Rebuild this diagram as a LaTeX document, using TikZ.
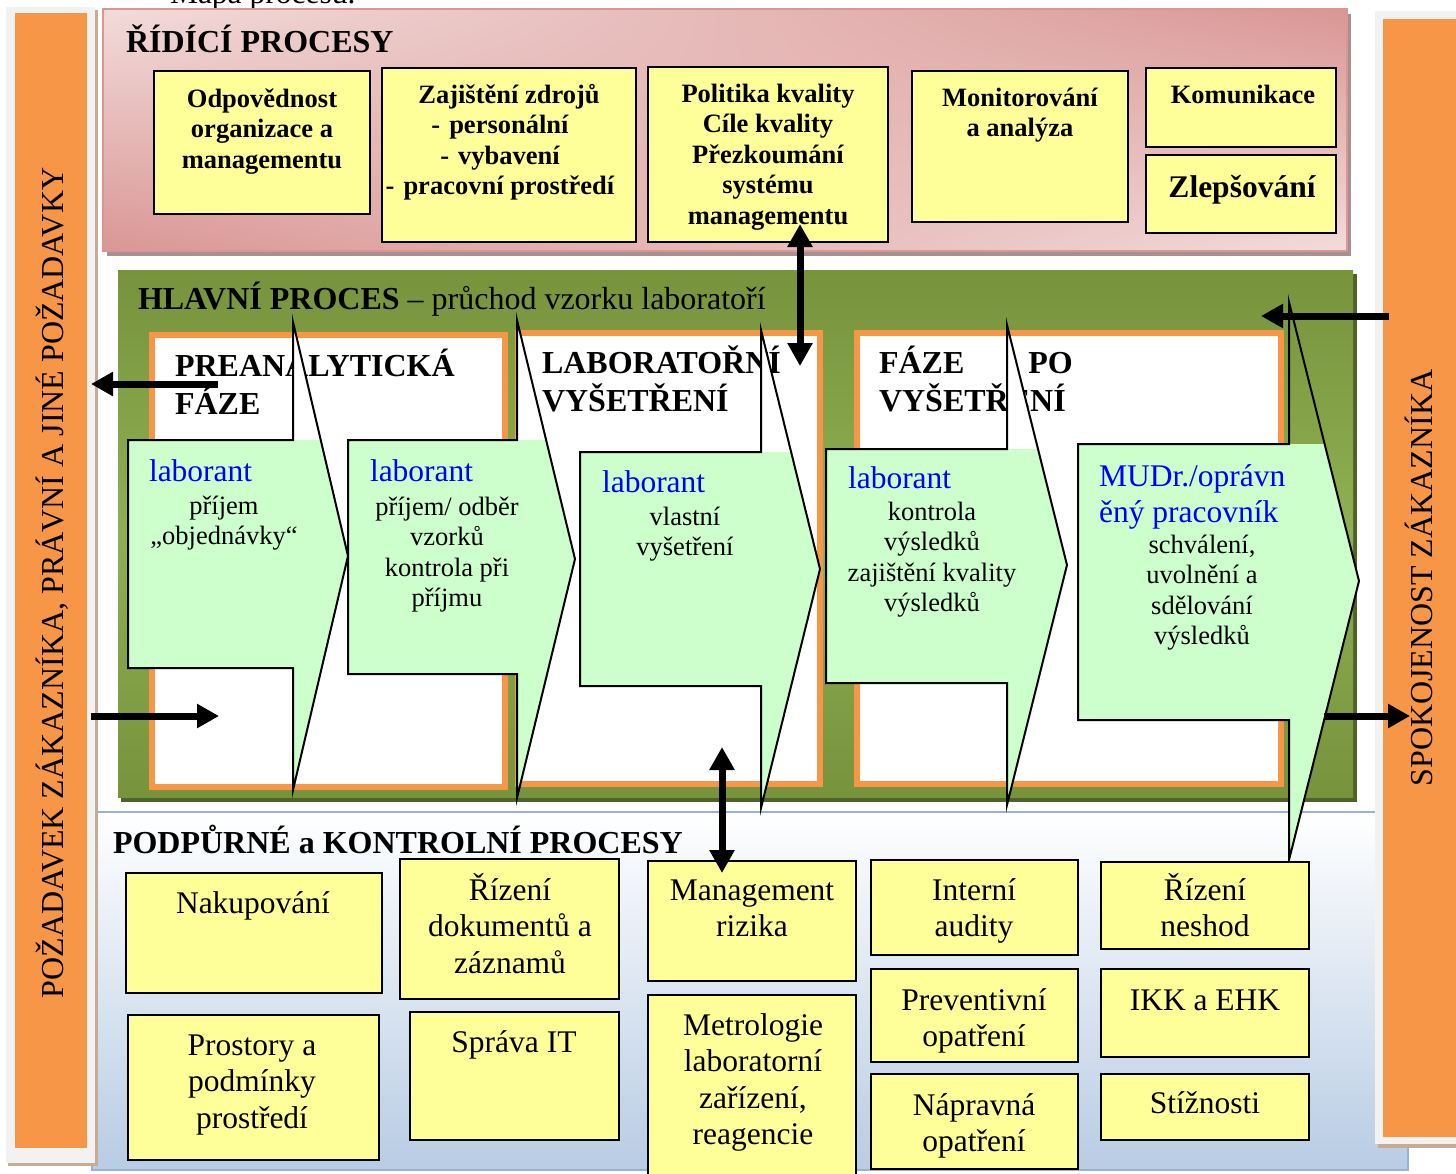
\documentclass[tikz,border=0pt]{standalone}
\usepackage{fontspec}
\setmainfont{Liberation Serif}
\usetikzlibrary{arrows.meta,shadings}
\definecolor{ycol}{HTML}{FFFF99}
\definecolor{ocol}{HTML}{F79646}
\definecolor{gcol}{HTML}{CCFFCC}
\definecolor{olA}{HTML}{77933C}
\definecolor{olB}{HTML}{8FB052}
\definecolor{olS}{HTML}{4F6228}
\definecolor{pkL}{HTML}{F2DCDB}
\definecolor{pkD}{HTML}{D99694}
\definecolor{pkS}{HTML}{A89090}
\definecolor{blL}{HTML}{B8CCE4}
\definecolor{blE}{HTML}{95B3D7}
\definecolor{grF}{HTML}{F2F2F2}
\definecolor{brS}{HTML}{C9AB93}
\definecolor{bluet}{HTML}{0000FF}
\newcommand\mylines[2]{\begin{tabular}[t]{@{}#1@{}}#2\end{tabular}}
\newcommand\rbox[6]{\node[#2, minimum width={#5-#3}, minimum height={#6-#4}] (#1) at ({(#3+#5)/2},{(#4+#6)/2}) {};}
\newcommand\flowarrow[9]{%
  \path[fill=#1] (#2,#3) -- (#5,#3) -- (#5,#6) -- (#8,#9) -- (#5,#7) -- (#5,#4) -- (#2,#4) -- cycle;
  \begin{scope}
    \clip (#2-5,#3) rectangle (#8+5,#7+5);
    \fill[gcol] (#2,#3) -- (#5,#3) -- (#5,#6) -- (#8,#9) -- (#5,#7) -- (#5,#4) -- (#2,#4) -- cycle;
  \end{scope}
  \draw[flowline] (#2,#3) -- (#5,#3) -- (#5,#6) -- (#8,#9) -- (#5,#7) -- (#5,#4) -- (#2,#4) -- cycle;
}
\begin{document}
\begin{tikzpicture}[x=1pt,y=-1pt,
  txt/.style={inner sep=0pt, outer sep=0pt, anchor=base},
  toptxt/.style={txt, font=\fontsize{26.5}{30.5}\selectfont\bfseries},
  bigtop/.style={txt, font=\fontsize{31.5}{37}\selectfont\bfseries},
  sectitle/.style={txt, anchor=base west, font=\fontsize{32}{37}\selectfont\bfseries},
  bluetxt/.style={txt, anchor=base west, text=bluet, font=\fontsize{31.5}{36}\selectfont},
  armtxt/.style={txt, font=\fontsize{26.5}{30.5}\selectfont},
  bottxt/.style={txt, font=\fontsize{31.5}{36.5}\selectfont},
  bartxt/.style={txt, rotate=90, font=\fontsize{32}{37}\selectfont},
  flowline/.style={draw=black, line width=2pt, line join=miter},
  ybox/.style={draw=black, line width=2pt, fill=ycol, inner sep=0pt, outer sep=0pt},
  phasebox/.style={draw=ocol, line width=6pt, fill=white, inner sep=0pt, outer sep=0pt},
  dblarrow/.style={line width=7pt, {Triangle[length=23pt,width=24pt]}-{Triangle[length=23pt,width=24pt]}},
  onearrow/.style={line width=7pt, -{Triangle[length=22pt,width=23pt]}}
]
\useasboundingbox (0,0) rectangle (1456,1173);
\clip (0,0) rectangle (1456,1173);
\fill[white] (0,0) rectangle (1456,1173);

% bottom panel
\shade[top color=white, bottom color=blL] (92,812) rectangle (1408,1170);
\draw[blE, line width=2pt] (92,812) rectangle (1408,1170);

% title fragment at top
\node[txt, anchor=base west, font=\fontsize{31.5}{37}\selectfont] (mapa) at (170,3) {Mapa procesu.};

% pink panel
\fill[pkS] (107,14) rectangle (1351,256);
\shade[upper left=pkL, upper right=pkD, lower left=pkD, lower right=pkL] (103,9) rectangle (1347,251);
\draw[pkD, line width=1.2pt] (103,9) rectangle (1347,251);

% green panel
\fill[olS] (121,274) rectangle (1357,802);
\shade[top color=olA, bottom color=olA, middle color=olB] (118,270) rectangle (1353,797);

% phase boxes
\rbox{pb1}{phasebox}{152}{335}{505}{787}
\rbox{pb2}{phasebox}{518}{333}{820}{784}
\rbox{pb3}{phasebox}{857}{333}{1281}{784}
\node[sectitle] (pt1) at (175,376) {\mylines{l}{PREANALYTICKÁ\\FÁZE}};
\node[sectitle] (pt2) at (542,373) {\mylines{l}{LABORATOŘNÍ\\VYŠETŘENÍ}};
\node[sectitle] (pt3) at (879,373) {\mylines{l}{FÁZE\hspace{64pt}PO\\VYŠETŘENÍ}};

% flow arrows
\flowarrow{white}{128}{440}{668}{293}{322}{790}{348}{556}
\flowarrow{white}{348}{440}{674}{517}{320}{798}{575}{559}
\flowarrow{white}{580}{452}{686}{761}{330}{808}{820}{569}
\flowarrow{white}{826}{449}{683}{1007}{325}{805}{1067}{565}
\flowarrow{none}{1078}{444}{720}{1289}{302}{860}{1359}{581}

\node[bluetxt] (w1) at (149,481) {laborant};
\node[armtxt] (d1) at (224,514) {\mylines{c}{příjem\\„objednávky“}};
\node[bluetxt] (w2) at (370,481) {laborant};
\node[armtxt] (d2) at (447,515) {\mylines{c}{příjem/ odběr\\vzorků\\kontrola při\\příjmu}};
\node[bluetxt] (w3) at (602,492) {laborant};
\node[armtxt] (d3) at (685,525) {\mylines{c}{vlastní\\vyšetření}};
\node[bluetxt] (w4) at (848,488) {laborant};
\node[armtxt] (d4) at (932,520) {\mylines{c}{kontrola\\výsledků\\zajištění kvality\\výsledků}};
\node[bluetxt] (w5) at (1099,486) {\mylines{l}{MUDr./oprávn\\ěný pracovník}};
\node[armtxt] (d5) at (1202,553) {\mylines{c}{schválení,\\uvolnění a\\sdělování\\výsledků}};

% section titles
\node[sectitle] (st1) at (126,52) {ŘÍDÍCÍ PROCESY};
\node[sectitle] (st2) at (138,309) {HLAVNÍ PROCES\mdseries{} – průchod vzorku laboratoří};
\node[sectitle] (st3) at (113,853) {PODPŮRNÉ a KONTROLNÍ PROCESY};

% top boxes
\rbox{odp}{ybox}{154}{71}{370}{214}
\rbox{zaj}{ybox}{382}{68}{636}{242}
\rbox{pol}{ybox}{648}{67}{888}{242}
\rbox{mon}{ybox}{912}{71}{1128}{222}
\rbox{kom}{ybox}{1146}{68}{1336}{147}
\rbox{zle}{ybox}{1146}{155}{1336}{233}
\node[toptxt] (odpt) at (262,107) {\mylines{c}{Odpovědnost\\organizace a\\managementu}};
\node[toptxt] (zajt) at (500,103) {\mylines{c}{\hspace*{18pt}Zajištění zdrojů\\-\hspace{9pt}personální\\-\hspace{9pt}vybavení\\-\hspace{9pt}pracovní prostředí}};
\node[toptxt] (polt) at (768,102) {\mylines{c}{Politika kvality\\Cíle kvality\\Přezkoumání\\systému\\managementu}};
\node[toptxt] (mont) at (1020,106) {\mylines{c}{Monitorování\\a analýza}};
\node[toptxt] (komt) at (1243,103) {Komunikace};
\node[bigtop] (zlet) at (1242,197) {Zlepšování};

% bottom boxes
\rbox{nak}{ybox}{126}{873}{382}{993}
\rbox{riz}{ybox}{400}{859}{619}{999}
\rbox{pro}{ybox}{128}{1015}{379}{1160}
\rbox{spr}{ybox}{410}{1012}{619}{1140}
\rbox{man}{ybox}{648}{861}{856}{981}
\rbox{met}{ybox}{648}{995}{856}{1185}
\rbox{int}{ybox}{871}{860}{1078}{955}
\rbox{pre}{ybox}{871}{969}{1078}{1062}
\rbox{nap}{ybox}{871}{1074}{1078}{1169}
\rbox{nes}{ybox}{1101}{862}{1309}{949}
\rbox{ikk}{ybox}{1101}{969}{1309}{1057}
\rbox{sti}{ybox}{1101}{1074}{1309}{1140}
\node[bottxt] (nakt) at (253,913) {Nakupování};
\node[bottxt] (rizt) at (510,900) {\mylines{c}{Řízení\\dokumentů a\\záznamů}};
\node[bottxt] (prot) at (252,1055) {\mylines{c}{Prostory a\\podmínky\\prostředí}};
\node[bottxt] (sprt) at (514,1052) {Správa IT};
\node[bottxt] (mant) at (752,900) {\mylines{c}{Management\\rizika}};
\node[bottxt] (mett) at (753,1035) {\mylines{c}{Metrologie\\laboratorní\\zařízení,\\reagencie}};
\node[bottxt] (intt) at (974,900) {\mylines{c}{Interní\\audity}};
\node[bottxt] (pret) at (974,1010) {\mylines{c}{Preventivní\\opatření}};
\node[bottxt] (napt) at (974,1115) {\mylines{c}{Nápravná\\opatření}};
\node[bottxt] (nest) at (1205,900) {\mylines{c}{Řízení\\neshod}};
\node[bottxt] (ikkt) at (1205,1010) {IKK a EHK};
\node[bottxt] (stit) at (1205,1113) {Stížnosti};

% side bars
\fill[brS] (8,10) rectangle (98,1166);
\fill[grF] (6,7) rectangle (95,1163);
\fill[ocol] (15,13) rectangle (87,1148);
\fill[brS] (1378,14) rectangle (1460,1148);
\fill[grF] (1375,11) rectangle (1460,1144);
\fill[ocol] (1383,19) rectangle (1456,1137);
\node[bartxt] (lbar) at (63,583) {POŽADAVEK ZÁKAZNÍKA, PRÁVNÍ A JINÉ POŽADAVKY};
\node[bartxt] (rbar) at (1432,578) {SPOKOJENOST ZÁKAZNÍKA};

% thick arrows
\coordinate (v1a) at (800,366);
\coordinate (v1b) at (800,224);
\coordinate (v2a) at (722,747);
\coordinate (v2b) at (722,873);
\coordinate (h1a) at (218,384);
\coordinate (h1b) at (91,384);
\coordinate (h2a) at (91,716);
\coordinate (h2b) at (219,716);
\coordinate (h3a) at (1389,316);
\coordinate (h3b) at (1261,316);
\coordinate (h4a) at (1324,716);
\coordinate (h4b) at (1410,716);
\draw[dblarrow] (v1a) -- (v1b);
\draw[dblarrow] (v2a) -- (v2b);
\draw[onearrow] (h1a) -- (h1b);
\draw[onearrow] (h2a) -- (h2b);
\draw[onearrow] (h3a) -- (h3b);
\draw[onearrow] (h4a) -- (h4b);
\end{tikzpicture}
\end{document}
